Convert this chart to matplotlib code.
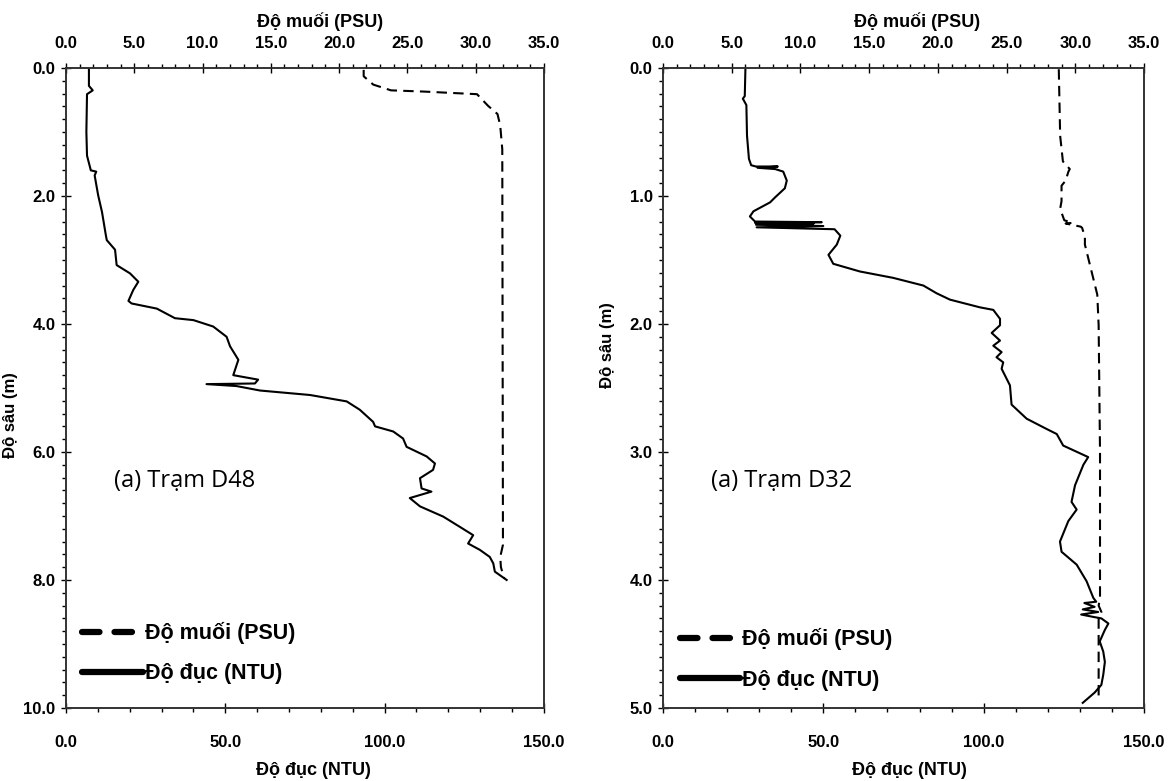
import numpy as np
import matplotlib
matplotlib.use('Agg')
import matplotlib.pyplot as plt
from matplotlib.lines import Line2D
from matplotlib.ticker import MultipleLocator, FormatStrFormatter

plt.rcParams['font.family'] = ['Liberation Sans', 'DejaVu Sans']
plt.rcParams['font.weight'] = 'bold'

# Station D48 - turbidity (NTU) profile
d48_ntu_depth = [0, 0.28, 0.35, 0.41, 1.0, 1.37, 1.6, 1.62, 1.68, 1.99, 2.25, 2.61, 2.69, 2.84,
                 3.08, 3.21, 3.34, 3.47, 3.64, 3.68, 3.76, 3.91, 3.94, 4.04, 4.2, 4.35, 4.56,
                 4.8, 4.87, 4.93, 4.94, 4.97, 5.04, 5.11, 5.21, 5.34, 5.53, 5.6, 5.68, 5.79,
                 5.92, 6.07, 6.18, 6.28, 6.41, 6.57, 6.62, 6.72, 6.85, 7.01, 7.17, 7.30, 7.43,
                 7.53, 7.64, 7.74, 7.87, 8.0]
d48_ntu = [7.2, 7.2, 8.4, 6.6, 6.4, 6.6, 7.8, 9.5, 9.0, 10.1, 11.3, 12.5, 12.8, 15.4,
           15.9, 20.1, 22.7, 21.1, 19.6, 20.6, 28.5, 34.2, 40.0, 46.2, 50.4, 51.5, 54.1,
           52.5, 60.3, 59.3, 44.1, 53.5, 60.9, 76.6, 88.1, 92.2, 96.4, 97.0, 102.7, 105.8,
           106.9, 113.2, 115.8, 115.2, 111.1, 111.6, 114.7, 107.9, 111.1, 118.4, 123.6, 127.8, 126.2,
           129.9, 133.0, 134.1, 134.6, 138.3]

# Station D48 - salinity (PSU) profile
d48_psu_depth = [0.03, 0.13, 0.26, 0.35, 0.37, 0.41, 0.59, 0.72, 0.9, 1.27, 7.45, 7.64, 7.8, 7.98]
d48_psu = [21.8, 21.8, 22.5, 23.8, 26.3, 30.1, 30.9, 31.6, 31.8, 31.95, 32.0, 31.8, 31.85, 32.1]

# Station D32 - turbidity (NTU) profile
d32_ntu_depth = [0.01, 0.22, 0.24, 0.29, 0.53, 0.71, 0.76, 0.77, 0.77, 0.78, 0.79, 0.81, 0.88,
                 0.94, 1.01, 1.05, 1.12, 1.16, 1.20, 1.205, 1.21, 1.215, 1.225, 1.235, 1.245,
                 1.26, 1.31, 1.38, 1.46, 1.53, 1.59, 1.64, 1.70, 1.76, 1.81, 1.87, 1.89, 1.96,
                 2.01, 2.07, 2.13, 2.17, 2.22, 2.26, 2.30, 2.35, 2.48, 2.63, 2.74, 2.82, 2.86,
                 2.95, 3.04, 3.10, 3.26, 3.39, 3.45, 3.54, 3.70, 3.78, 3.88, 4.01, 4.14, 4.17,
                 4.18, 4.21, 4.23, 4.25, 4.27, 4.29, 4.30, 4.34, 4.39, 4.48, 4.56, 4.64, 4.74,
                 4.82, 4.88, 4.96]
d32_ntu = [25.7, 25.5, 24.9, 26.0, 26.2, 26.8, 27.5, 29.0, 35.8, 29.5, 35.0, 37.5, 38.6,
           38.0, 35.0, 33.4, 28.2, 27.1, 28.7, 49.5, 28.7, 47.0, 29.0, 50.0, 29.2,
           53.5, 55.3, 54.2, 51.6, 53.1, 61.4, 71.8, 81.2, 85.3, 89.5, 98.8, 103.0, 105.1,
           105.1, 102.5, 105.1, 103.0, 105.6, 104.0, 106.1, 105.6, 108.2, 108.7, 113.4, 119.6, 122.8,
           124.8, 132.6, 131.1, 128.5, 127.4, 129.0, 126.4, 123.8, 124.3, 129.0, 132.1, 134.2, 135.1,
           131.4, 134.6, 130.9, 135.7, 130.4, 134.5, 136.7, 138.9, 137.8, 136.2, 137.3, 137.8, 137.3,
           136.7, 134.6, 130.9]

# Station D32 - salinity (PSU) profile
d32_psu_depth = [0.01, 0.53, 0.73, 0.79, 0.81, 0.88, 0.92, 1.04, 1.10, 1.19, 1.21, 1.215, 1.24,
                 1.25, 1.32, 1.38, 1.64, 1.77, 2.01, 3.0, 4.14, 4.2, 4.25, 4.3, 4.92]
d32_psu = [28.8, 28.9, 29.1, 29.6, 29.5, 29.3, 29.0, 29.0, 28.9, 29.2, 29.8, 29.3, 30.4,
           30.5, 30.7, 30.7, 31.3, 31.6, 31.7, 31.8, 31.8, 31.7, 31.9, 31.7, 31.7]


def draw_panel(rect, ntu_depth, ntu, psu_depth, psu, ymax, ymajor, yminor, station,
               ylab_y, top_lab_x, bot_lab_x, leg_y):
    ax = fig.add_axes(rect)
    ax2 = ax.twiny()

    ax.plot(ntu, ntu_depth, color='black', lw=1.5)
    ax2.plot(psu, psu_depth, color='black', lw=1.5, dashes=(5, 3))

    ax.set_xlim(0, 150)
    ax2.set_xlim(0, 35)
    ax.set_ylim(ymax, 0)

    ax.xaxis.set_major_locator(MultipleLocator(50))
    ax.xaxis.set_minor_locator(MultipleLocator(10))
    ax2.xaxis.set_major_locator(MultipleLocator(5))
    ax2.xaxis.set_minor_locator(MultipleLocator(1))
    ax.yaxis.set_major_locator(MultipleLocator(ymajor))
    ax.yaxis.set_minor_locator(MultipleLocator(yminor))
    for a in [ax.xaxis, ax.yaxis, ax2.xaxis]:
        a.set_major_formatter(FormatStrFormatter('%.1f'))

    ax.tick_params(axis='x', which='major', direction='inout', length=7, width=1, pad=16, labelsize=12)
    ax.tick_params(axis='x', which='minor', direction='out', length=3, width=1)
    ax.tick_params(axis='y', which='major', direction='inout', length=7, width=1, pad=4, labelsize=12)
    ax.tick_params(axis='y', which='minor', direction='out', length=3, width=1)
    ax2.tick_params(axis='x', which='major', direction='inout', length=7, width=1, pad=9, labelsize=12)
    ax2.tick_params(axis='x', which='minor', direction='out', length=3, width=1)

    for s in list(ax.spines.values()) + list(ax2.spines.values()):
        s.set_linewidth(1.2)
        s.set_color('#333333')

    ax.set_xlabel('Độ đục (NTU)', fontsize=13, fontweight='bold')
    ax2.set_xlabel('Độ muối (PSU)', fontsize=13, fontweight='bold')
    ax.set_ylabel('Độ sâu (m)', fontsize=12, fontweight='bold')
    ax.xaxis.set_label_coords(bot_lab_x, -0.085)
    ax2.xaxis.set_label_coords(top_lab_x, 1.064)
    ax.yaxis.set_label_coords(-0.1, ylab_y)

    ax.text(0.1, 0.355, station, transform=ax.transAxes, fontsize=17,
            family=['Open Sans', 'DejaVu Sans'], fontweight='normal', va='center')

    handles = [Line2D([], [], color='black', lw=4.5, dashes=(2.8, 2.4), dash_capstyle='round'),
               Line2D([], [], color='black', lw=4.5, solid_capstyle='round')]
    ax2.legend(handles, ['Độ muối (PSU)', 'Độ đục (NTU)'], loc='lower left',
               bbox_to_anchor=(0.012, leg_y), frameon=False,
               handlelength=2.8, handletextpad=0.1, labelspacing=0.9, borderpad=0,
               prop={'weight': 'bold', 'size': 15.5})
    return ax


fig = plt.figure(figsize=(11.72, 7.81), dpi=100)

draw_panel([0.0563, 0.0935, 0.4078, 0.8195], d48_ntu_depth, d48_ntu, d48_psu_depth, d48_psu,
           10, 2, 0.2, '(a) Trạm D48', 0.458, 0.531, 0.517, 0.02)
draw_panel([0.5657, 0.0935, 0.4104, 0.8195], d32_ntu_depth, d32_ntu, d32_psu_depth, d32_psu,
           5, 1, 0.1, '(a) Trạm D32', 0.567, 0.528, 0.513, 0.01)

fig.savefig('out.png', dpi=100)
